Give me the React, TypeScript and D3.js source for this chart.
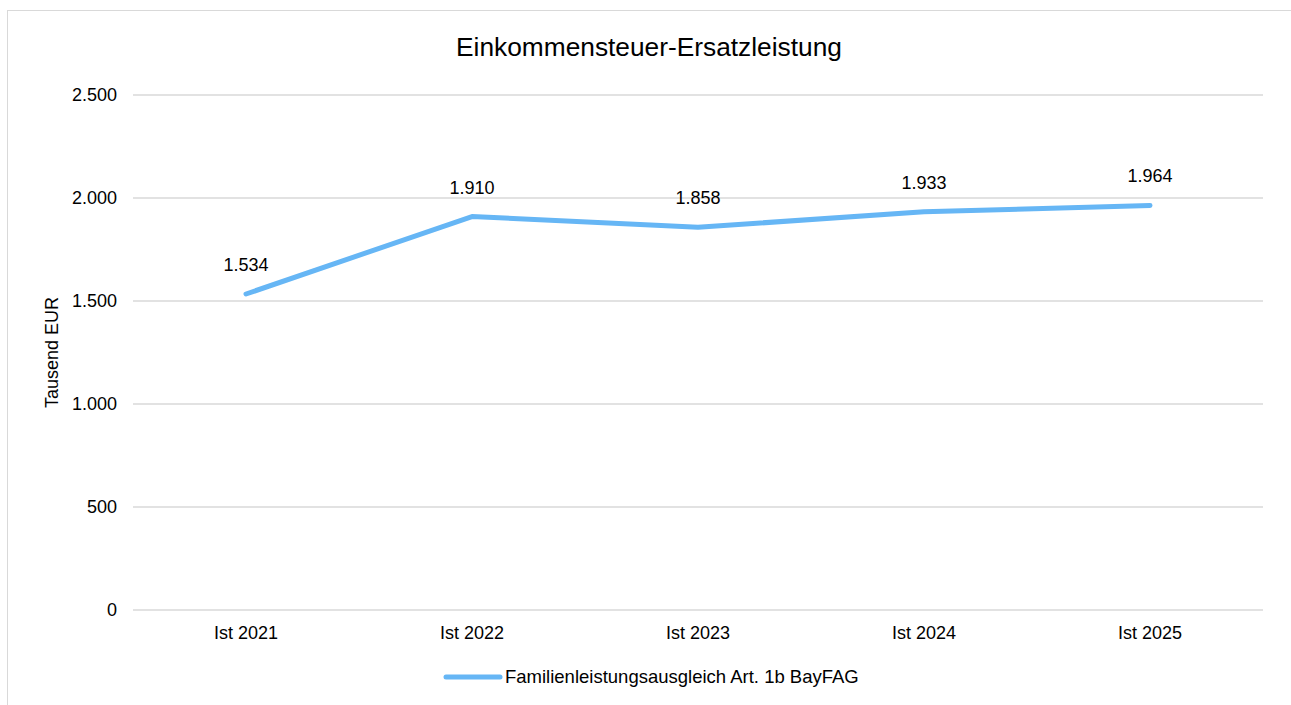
import React from "react";
import * as d3 from "d3";

const categories = ["Ist 2021", "Ist 2022", "Ist 2023", "Ist 2024", "Ist 2025"];
const values = [1534, 1910, 1858, 1933, 1964];
const yTicks = [0, 500, 1000, 1500, 2000, 2500];
const seriesName = "Familienleistungsausgleich Art. 1b BayFAG";
const title = "Einkommensteuer-Ersatzleistung";
const yTitle = "Tausend EUR";

const W = 1291;
const H = 705;
const left = 133;
const right = 1263;
const top = 95;
const bottom = 610;
const font = "'Liberation Sans', Arial, sans-serif";
const color = "#66b6f5";

const fmt = (v: number) => d3.format(",")(v).replace(/,/g, ".");

export default function App() {
  const x = d3.scaleBand<string>().domain(categories).range([left, right]);
  const y = d3.scaleLinear().domain([0, 2500]).range([bottom, top]);
  const cx = (c: string) => (x(c) as number) + x.bandwidth() / 2;
  const line = d3
    .line<number>()
    .x((_, i) => cx(categories[i]))
    .y((d) => y(d));

  return (
    <svg
      width={W}
      height={H}
      style={{ position: "absolute", left: 0, top: 0, background: "#fff" }}
      fontFamily={font}
    >
      <rect x={7.5} y={10.5} width={W + 20} height={H + 20} fill="#fff" stroke="#d9d9d9" strokeWidth={1} />
      <text x={649} y={56} textAnchor="middle" fontSize={26.3} fill="#000">
        {title}
      </text>
      {yTicks.map((t) => (
        <g key={t}>
          <line x1={left} x2={right} y1={y(t)} y2={y(t)} stroke="#d9d9d9" strokeWidth={1.5} />
          <text x={117} y={y(t)} dy="0.35em" textAnchor="end" fontSize={18} fill="#000">
            {fmt(t)}
          </text>
        </g>
      ))}
      {categories.map((c) => (
        <text key={c} x={cx(c)} y={633} dy="0.35em" textAnchor="middle" fontSize={18} fill="#000">
          {c}
        </text>
      ))}
      <text
        transform={`translate(52, ${(top + bottom) / 2}) rotate(-90)`}
        textAnchor="middle"
        dy="0.35em"
        fontSize={18}
        fill="#000"
      >
        {yTitle}
      </text>
      <path d={line(values) || ""} fill="none" stroke={color} strokeWidth={5} strokeLinecap="round" strokeLinejoin="round" />
      {values.map((v, i) => (
        <text key={i} x={cx(categories[i])} y={y(v) - 23} textAnchor="middle" fontSize={18} fill="#000">
          {fmt(v)}
        </text>
      ))}
      <line x1={446} x2={500} y1={677} y2={677} stroke={color} strokeWidth={5} strokeLinecap="round" />
      <text x={505} y={677} dy="0.35em" fontSize={18.5} fill="#000">
        {seriesName}
      </text>
    </svg>
  );
}
